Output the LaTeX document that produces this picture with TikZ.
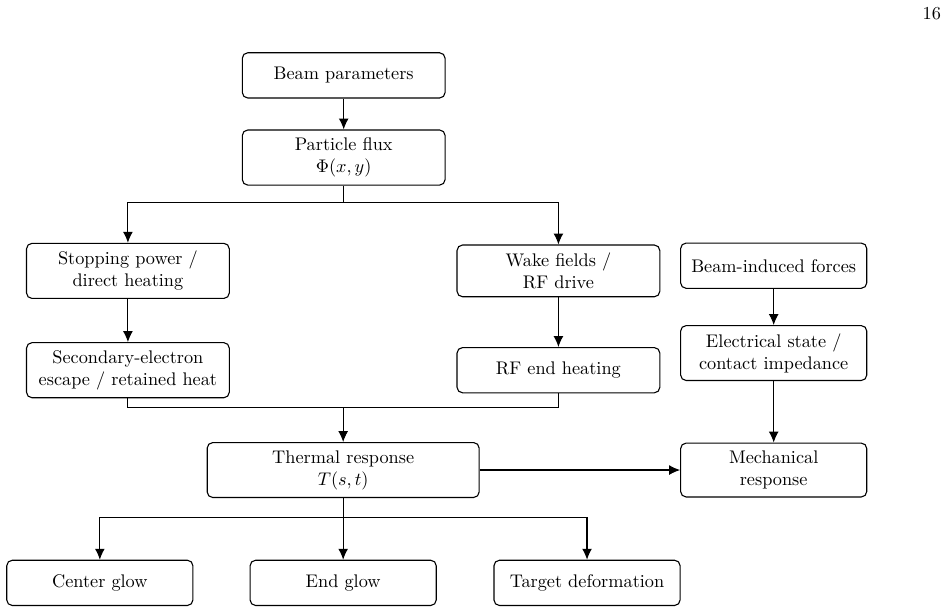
\documentclass[tikz,border=0pt]{standalone}
\usepackage{tikz}
\usetikzlibrary{
	arrows.meta,
	positioning,
	calc
}

\begin{document}
\begin{tikzpicture}[
	block/.style={
		rectangle,
		rounded corners=3pt,
		draw=black,
		line width=0.6pt,
		align=center,
		text width=3.5cm,
		minimum width=3.9cm,
		minimum height=0.87cm,
		inner xsep=3pt,
		inner ysep=4.3pt
	},
	side/.style={block, text width=3.3cm, minimum width=3.58cm},
	wide/.style={block, text width=4.9cm, minimum width=5.23cm},
	edge/.style={-{Latex[length=2.1mm,width=1.9mm]}, line width=0.6pt},
	wire/.style={line width=0.6pt}
]
\useasboundingbox (0,0) rectangle (18.29,-11.79);

\node[anchor=east] (pagenum) at (18.22,-0.27) {16};

% Fuente del haz
\node[block] (beam) at (6.61,-1.45) {Beam parameters};
\node[block] (flux) at (6.61,-3.03) {Particle flux\\$\Phi(x,y)$};

\draw[edge] (beam) -- (flux);

% Ramas
\node[block] (stopping) at (2.46,-5.21) {Stopping power /\\direct heating};
\node[block] (secondary) at (2.46,-7.12) {Secondary-electron\\escape / retained heat};
\node[block] (wake) at (10.74,-5.21) {Wake fields /\\RF drive};
\node[block] (rfend) at (10.74,-7.12) {RF end heating};
\node[side] (forces) at (14.88,-5.11) {Beam-induced forces};
\node[side] (electrical) at (14.88,-6.79) {Electrical state /\\contact impedance};

\coordinate (split) at (6.61,-3.90);
\draw[wire] (flux) -- (split);
\draw[edge] (split) -| (stopping);
\draw[edge] (split) -| (wake);
\draw[edge] (stopping) -- (secondary);
\draw[edge] (wake) -- (rfend);
\draw[edge] (forces) -- (electrical);

% Respuesta
\node[wide] (thermal) at (6.60,-9.04) {Thermal response\\$T(s,t)$};
\node[side] (mechanical) at (14.88,-9.04) {Mechanical\\response};

\coordinate (merge) at (6.60,-7.83);
\draw[wire] (secondary.south) |- (merge);
\draw[wire] (rfend.south) |- (merge);
\draw[edge] (merge) -- (thermal);
\draw[edge] (thermal) -- (mechanical);
\draw[edge] (electrical) -- (mechanical);

% Salidas
\node[side] (center) at (1.92,-11.21) {Center glow};
\node[side] (endglow) at (6.60,-11.21) {End glow};
\node[side] (target) at (11.29,-11.21) {Target deformation};

\coordinate (fan) at (6.60,-9.96);
\draw[edge] (thermal) -- (endglow);
\draw[edge] (fan) -| (center);
\draw[edge] (fan) -| (target);
\end{tikzpicture}
\end{document}
